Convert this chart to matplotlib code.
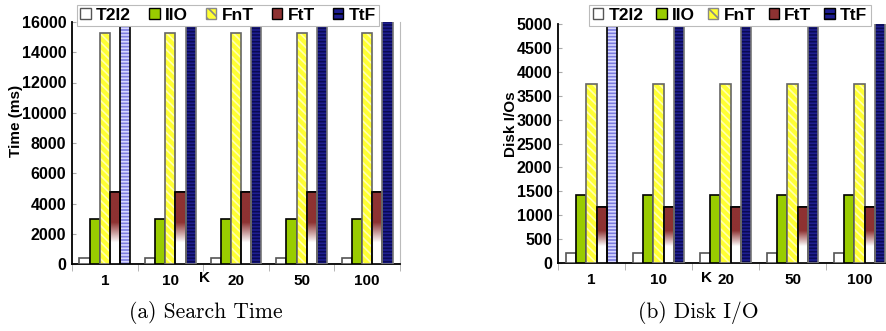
# -*- coding: utf-8 -*-
import numpy as np
import matplotlib
matplotlib.use("Agg")
import matplotlib.pyplot as plt
from matplotlib.patches import Patch
from matplotlib.colors import LinearSegmentedColormap

k_labels = ["1", "10", "20", "50", "100"]
methods = ["T2I2", "IIO", "FnT", "FtT", "TtF"]

time_ms = {
    "T2I2": [400, 400, 400, 400, 400],
    "IIO": [2950, 2950, 2950, 2950, 2950],
    "FnT": [15300, 15300, 15300, 15300, 15300],
    "FtT": [4750, 4750, 4750, 4750, 4750],
    "TtF": [20000, 20000, 20000, 20000, 20000],
}
disk_io = {
    "T2I2": [200, 200, 200, 200, 200],
    "IIO": [1420, 1420, 1420, 1420, 1420],
    "FnT": [3750, 3750, 3750, 3750, 3750],
    "FtT": [1170, 1170, 1170, 1170, 1170],
    "TtF": [6000, 6000, 6000, 6000, 6000],
}

plt.rcParams["font.family"] = ["Liberation Sans", "DejaVu Sans"]
plt.rcParams["font.weight"] = "bold"
plt.rcParams["hatch.linewidth"] = 1.2

red_fade = LinearSegmentedColormap.from_list(
    "fade", [(0.0, "#ffffff"), (0.30, "#ffffff"), (0.58, "#8e3232"), (1.0, "#8e3232")])

bar_w = 0.155
x = np.arange(len(k_labels))


def draw_panel(ax, data, ymax, ystep, ylabel):
    offsets = (np.arange(5) - 2) * bar_w
    # T2I2
    ax.bar(x + offsets[0], data["T2I2"], bar_w, color="white",
           edgecolor="#555555", linewidth=1.2, zorder=3)
    # IIO
    ax.bar(x + offsets[1], data["IIO"], bar_w, color="#99cc00",
           edgecolor="black", linewidth=1.2, zorder=3)
    # FnT: yellow with light diagonal stripes
    ax.bar(x + offsets[2], data["FnT"], bar_w, color="#ffff33",
           edgecolor="#ffffb0", hatch="\\\\\\\\", linewidth=0, zorder=3)
    ax.bar(x + offsets[2], data["FnT"], bar_w, fill=False,
           edgecolor="#666666", linewidth=1.2, zorder=4)
    # FtT: red fading to white
    bars = ax.bar(x + offsets[3], data["FtT"], bar_w, color="white",
                  edgecolor="black", linewidth=1.2, zorder=3)
    grad = np.linspace(0, 1, 256).reshape(-1, 1)
    for b in bars:
        x0, h = b.get_x(), b.get_height()
        im = ax.imshow(grad, cmap=red_fade, origin="lower", aspect="auto",
                       extent=(x0, x0 + bar_w, 0, h), zorder=3.5)
        im.set_clip_path(b)
    ax.bar(x + offsets[3], data["FtT"], bar_w, fill=False,
           edgecolor="black", linewidth=1.2, zorder=4)
    # TtF: navy with horizontal stripes, first group lighter
    for i in range(len(k_labels)):
        if i == 0:
            fc, hc, ec = "#7c7ce0", "#d8d8ff", "black"
        else:
            fc, hc, ec = "#1e1e90", "#0a0a55", "#777777"
        ax.bar(x[i] + offsets[4], data["TtF"][i], bar_w, color=fc,
               edgecolor=hc, hatch="-----", linewidth=0, zorder=3)
        ax.bar(x[i] + offsets[4], data["TtF"][i], bar_w, fill=False,
               edgecolor=ec, linewidth=1.2, zorder=4)

    ax.set_xlim(-0.5, len(k_labels) - 0.5)
    ax.set_ylim(0, ymax)
    ax.set_yticks(np.arange(0, ymax + 1, ystep))
    ax.set_xticks(x)
    ax.set_xticklabels(k_labels, fontsize=11, fontweight="bold")
    ax.set_xticks(np.arange(len(k_labels) + 1) - 0.5, minor=True)
    ax.tick_params(axis="x", which="major", length=0, pad=7)
    ax.tick_params(axis="x", which="minor", length=5, color="#aaaaaa", direction="out")
    ax.tick_params(axis="y", labelsize=11.5, length=3, color="#aaaaaa",
                   direction="in", pad=4)
    for t in ax.get_yticklabels():
        t.set_fontweight("bold")
    ax.spines["top"].set_visible(False)
    ax.spines["right"].set_color("#bbbbbb")
    ax.spines["left"].set_linewidth(1.3)
    ax.spines["bottom"].set_linewidth(1.3)
    ax.set_ylabel(ylabel, fontsize=11, fontweight="bold")

    handles = [
        Patch(facecolor="white", edgecolor="#555555"),
        Patch(facecolor="#99cc00", edgecolor="black"),
        Patch(facecolor="#ffff33", edgecolor="#888888", hatch="\\\\\\"),
        Patch(facecolor="#8e3232", edgecolor="black"),
        Patch(facecolor="#1e1e90", edgecolor="black", hatch="---"),
    ]
    return handles


def add_legend(handles, cx, spacing):
    leg = fig.legend(handles, methods, loc="center", ncol=5,
                     prop={"size": 12.5, "weight": "bold"},
                     bbox_to_anchor=(cx / 886, 1 - 15.5 / 331),
                     handlelength=0.6, handleheight=0.6, handletextpad=0.3,
                     columnspacing=spacing, frameon=True, fancybox=False,
                     borderpad=0.2, edgecolor="#bbbbbb", framealpha=1)
    leg.get_frame().set_linewidth(0.8)
    return leg


fig = plt.figure(figsize=(8.86, 3.31), dpi=100)

ax1 = fig.add_axes([72 / 886, 1 - 264 / 331, 328 / 886, 242 / 331])
h = draw_panel(ax1, time_ms, 16000, 2000, "Time (ms)")
ax1.yaxis.set_label_coords(-0.15, 0.59)
add_legend(h, 228, 1.05)

ax2 = fig.add_axes([558 / 886, 1 - 263 / 331, 335 / 886, 239 / 331])
h = draw_panel(ax2, disk_io, 5000, 500, "Disk I/Os")
ax2.yaxis.set_label_coords(-0.12, 0.58)
add_legend(h, 730, 0.75)

# K axis labels
for px in (205, 706):
    fig.text(px / 886, 1 - 278 / 331, "K", fontsize=11, fontweight="bold",
             ha="center", va="center")

fig.text(206 / 886, 1 - 313 / 331, "(a) Search Time", fontsize=15.5,
         family="cmr10", fontweight="normal", ha="center", va="center")
fig.text(698 / 886, 1 - 313 / 331, "(b) Disk I/O", fontsize=15.5,
         family="cmr10", fontweight="normal", ha="center", va="center")

fig.savefig("out.png", dpi=100)
